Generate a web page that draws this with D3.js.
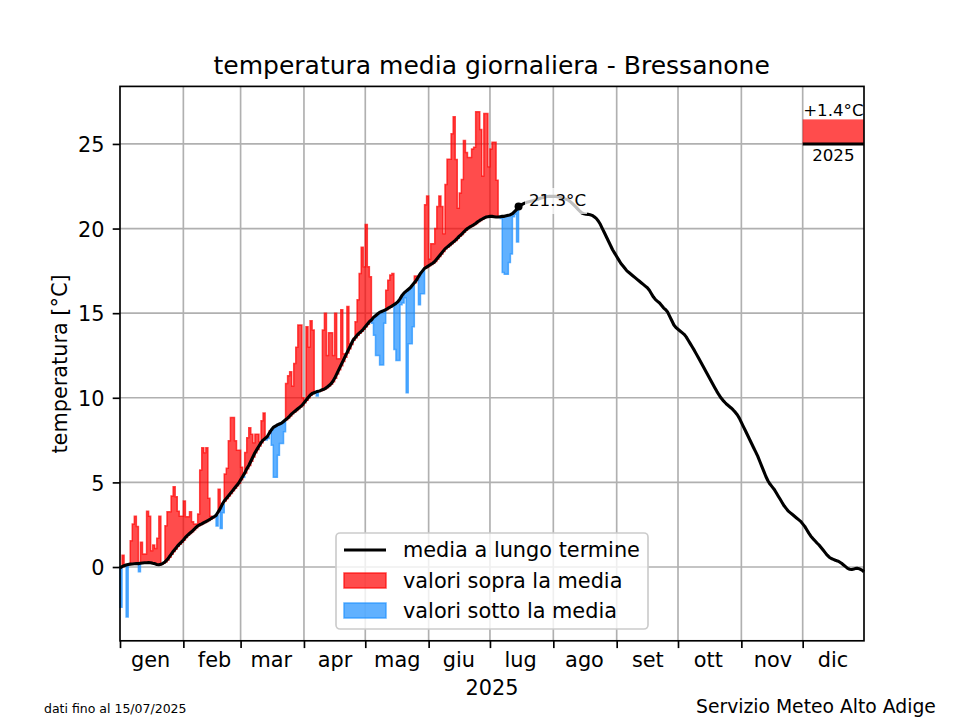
<!DOCTYPE html>
<html><head><meta charset="utf-8">
<script src="https://cdn.jsdelivr.net/npm/d3@7"></script>
<style>
html,body{margin:0;padding:0;background:#fff}
svg{display:block;font-family:"DejaVu Sans",sans-serif}
text{fill:#000}
</style></head><body><svg id="c" width="960" height="720"></svg>
<script>
const monthLabels=["gen","feb","mar","apr","mag","giu","lug","ago","set","ott","nov","dic"];
const monthStarts=[0,31,59,90,120,151,181,212,243,273,304,334];
const labelDays=[14.7,46,73.8,105,135.4,165.5,195.7,227,258,287.6,319.2,348.6];
const yearEnd=364;
const yTicks=[0,5,10,15,20,25];
const meanValues=[-0.05,0.02,0.08,0.12,0.15,0.17,0.18,0.19,0.2,0.2,
0.22,0.24,0.25,0.25,0.26,0.25,0.22,0.2,0.15,0.13,
0.16,0.22,0.3,0.42,0.58,0.75,0.92,1.07,1.22,1.35,
1.47,1.6,1.75,1.87,1.98,2.08,2.2,2.32,2.42,2.5,
2.55,2.62,2.68,2.75,2.82,2.9,2.97,3.05,3.25,3.45,
3.7,3.9,4.05,4.2,4.35,4.5,4.65,4.8,4.95,5.15,
5.35,5.55,5.8,6.0,6.25,6.5,6.75,6.95,7.15,7.35,
7.5,7.6,7.7,7.9,8.1,8.25,8.32,8.4,8.45,8.5,
8.6,8.7,8.8,8.92,9.05,9.15,9.25,9.35,9.45,9.55,
9.7,9.85,10.0,10.15,10.25,10.3,10.35,10.38,10.42,10.48,
10.52,10.6,10.7,10.8,10.95,11.15,11.4,11.65,11.9,12.15,
12.4,12.65,12.9,13.15,13.4,13.55,13.7,13.82,13.93,14.05,
14.2,14.35,14.5,14.6,14.75,14.85,14.95,15.05,15.1,15.15,
15.2,15.28,15.35,15.42,15.5,15.58,15.68,15.85,16.05,16.2,
16.3,16.4,16.5,16.65,16.8,16.95,17.15,17.35,17.5,17.65,
17.72,17.8,17.88,17.95,18.05,18.2,18.35,18.5,18.65,18.8,
18.9,19.0,19.1,19.2,19.3,19.42,19.55,19.65,19.78,19.9,
20.0,20.08,20.15,20.22,20.3,20.4,20.48,20.55,20.62,20.68,
20.7,20.72,20.72,20.7,20.68,20.68,20.7,20.72,20.72,20.75,
20.78,20.82,20.88,21.0,21.12,21.3,21.38,21.44,21.5,21.55,
21.58,21.62,21.65,21.68,21.72,21.76,21.8,21.84,21.87,21.89,
21.9,21.9,21.9,21.9,21.88,21.85,21.82,21.78,21.74,21.7,
21.62,21.52,21.4,21.28,21.15,21.02,20.92,20.88,20.85,20.84,
20.82,20.78,20.7,20.6,20.45,20.25,20.0,19.75,19.5,19.25,
19.0,18.75,18.55,18.35,18.15,17.95,17.8,17.65,17.5,17.4,
17.3,17.2,17.1,17.0,16.9,16.8,16.7,16.6,16.5,16.35,
16.15,15.95,15.8,15.7,15.6,15.45,15.3,15.2,15.05,14.8,
14.55,14.3,14.15,14.05,13.95,13.85,13.75,13.6,13.4,13.2,
13.0,12.8,12.58,12.36,12.14,11.92,11.7,11.48,11.26,11.04,
10.82,10.6,10.38,10.18,10.0,9.85,9.72,9.6,9.5,9.4,
9.28,9.15,9.0,8.8,8.55,8.3,8.05,7.8,7.55,7.3,
7.05,6.8,6.55,6.25,5.95,5.65,5.35,5.1,4.9,4.75,
4.6,4.4,4.2,4.0,3.8,3.6,3.45,3.3,3.2,3.1,
3.0,2.9,2.8,2.7,2.55,2.4,2.2,2.0,1.82,1.68,
1.55,1.42,1.3,1.15,1.0,0.85,0.7,0.58,0.5,0.45,
0.4,0.36,0.3,0.22,0.12,0.02,-0.08,-0.13,-0.15,-0.12,
-0.08,-0.08,-0.12,-0.18,-0.28];
const dailyValues=[-2.38,0.7,0.15,-2.95,0.2,1.55,2.54,3.0,2.4,-0.28,
1.47,0.77,0.77,3.3,3.0,0.96,1.3,1.1,1.7,3.0,
0.2,0.25,2.44,3.27,3.27,4.2,4.74,4.15,3.3,3.0,
3.0,3.9,2.97,2.97,3.27,2.67,2.54,2.54,3.13,5.73,
7.05,6.75,7.05,4.06,3.0,2.95,2.97,2.42,4.6,2.28,
3.2,5.5,5.84,7.46,8.84,8.84,7.46,6.9,6.9,5.9,
5.3,6.77,7.64,8.23,7.84,7.34,7.84,7.84,7.4,8.64,
9.1,7.5,7.6,8.05,7.2,5.3,5.3,6.6,7.3,7.3,
8.0,10.85,11.3,11.54,10.7,12.03,12.98,14.3,14.3,10.0,
9.7,14.2,13.0,14.55,14.0,10.35,10.1,10.4,10.45,14.0,
15.0,12.5,13.85,13.85,12.5,15.0,12.3,12.3,15.2,12.6,
12.6,15.4,13.2,13.2,13.5,14.5,15.8,17.35,18.9,17.74,
20.24,17.74,17.15,14.4,13.7,12.5,12.5,11.93,11.93,14.4,
16.35,16.95,17.25,17.35,12.85,12.2,12.2,15.5,15.6,15.9,
10.3,13.2,13.2,14.2,17.2,17.2,15.5,16.15,16.15,21.4,
21.93,18.2,19.1,19.1,20.0,21.3,21.93,21.3,19.7,22.6,
24.1,24.1,25.6,26.6,24.08,21.2,22.1,22.9,25.2,24.5,
24.2,24.2,24.7,24.8,26.9,26.9,25.85,23.1,26.8,26.8,
23.65,24.7,25.1,25.1,22.85,20.7,20.6,17.4,17.3,17.3,
18.0,18.5,20.7,20.85,19.2,21.3];
const yearMean=25, yearValue=26.45;
const yearLabel="2025", yearAnomaly="+1.4°C", lastLabel="21.3°C";
const legendItems=["media a lungo termine","valori sopra la media","valori sotto la media"];

const RED="#ff0000", BLUE="#1e90ff";
const L=120,R=864,T=86.4,B=640.8;
const svg=d3.select("#c");
const x=d3.scaleLinear().domain([0,yearEnd]).range([L,R]);
const y=d3.scaleLinear().domain([-4.36,28.4]).range([B,T]);
const g=svg.append("g");

// grid
g.append("g").selectAll("line").data(monthStarts.slice(1)).join("line")
 .attr("x1",d=>x(d)).attr("x2",d=>x(d)).attr("y1",T).attr("y2",B)
 .attr("stroke","#b0b0b0").attr("stroke-width",1.67);
g.append("g").selectAll("line").data(yTicks).join("line")
 .attr("x1",L).attr("x2",R).attr("y1",d=>y(d)).attr("y2",d=>y(d))
 .attr("stroke","#b0b0b0").attr("stroke-width",1.67);

// daily anomaly bands: one step area per run of same sign
const area=d3.area().curve(d3.curveStepAfter).x(d=>x(d.i)).y0(d=>y(d.m)).y1(d=>y(d.v));
let runs=[],cur=null;
dailyValues.forEach((v,i)=>{
  const up=v>=meanValues[i];
  if(!cur||cur.up!==up){cur={up,pts:[]};runs.push(cur);}
  cur.pts.push({i,v,m:meanValues[i]});
});
runs.forEach(r=>{
  const last=r.pts[r.pts.length-1];
  r.pts.push({i:last.i+1,v:last.v,m:last.m});
  const c=r.up?RED:BLUE;
  g.append("path").attr("d",area(r.pts)).attr("fill",c).attr("fill-opacity",.7)
   .attr("stroke",c).attr("stroke-opacity",.7).attr("stroke-width",1.5);
});

// long term mean
g.append("path").datum(meanValues)
 .attr("d",d3.line().x((d,i)=>x(i)).y(d=>y(d)))
 .attr("fill","none").attr("stroke","#000").attr("stroke-width",3.1).attr("stroke-linejoin","round");

// last value dot and label
const li=dailyValues.length-1;
g.append("circle").attr("cx",x(li)).attr("cy",y(dailyValues[li])).attr("r",4).attr("fill","#000");
g.append("rect").attr("x",525).attr("y",188).attr("width",62).attr("height",26).attr("fill","#fff").attr("fill-opacity",.75);
g.append("text").attr("x",529).attr("y",206).attr("font-size",16.67).text(lastLabel);

// yearly anomaly box
const bx0=monthStarts[11], bx1=yearEnd;
g.append("rect").attr("x",x(bx0)).attr("width",x(bx1)-x(bx0)).attr("y",y(yearValue)).attr("height",y(yearMean)-y(yearValue))
 .attr("fill",RED).attr("fill-opacity",.7);
g.append("line").attr("x1",x(bx0)).attr("x2",x(bx1)).attr("y1",y(yearMean)).attr("y2",y(yearMean))
 .attr("stroke","#000").attr("stroke-width",3.1);
g.append("text").attr("x",(x(bx0)+x(bx1))/2).attr("y",116).attr("text-anchor","middle").attr("font-size",16.67).text(yearAnomaly);
g.append("text").attr("x",(x(bx0)+x(bx1))/2).attr("y",161).attr("text-anchor","middle").attr("font-size",16.67).text(yearLabel);

// frame
g.append("rect").attr("x",L).attr("y",T).attr("width",R-L).attr("height",B-T).attr("fill","none").attr("stroke","#000").attr("stroke-width",1.67);

// axes
const styleAxis=a=>{a.select(".domain").remove();a.selectAll("line").attr("stroke","#000").attr("stroke-width",1.67);
  a.selectAll("text").attr("font-size",20.83).attr("font-family","DejaVu Sans").attr("fill","#000");};
svg.append("g").attr("transform",`translate(0,${B})`)
 .call(d3.axisBottom(x).tickValues(monthStarts).tickSize(7.3).tickFormat("")).call(styleAxis);
svg.append("g").attr("transform",`translate(0,${B})`)
 .call(d3.axisBottom(x).tickValues(labelDays).tickSize(0).tickPadding(11.7).tickFormat((d,i)=>monthLabels[i])).call(styleAxis);
svg.append("g").attr("transform",`translate(${L},0)`)
 .call(d3.axisLeft(y).tickValues(yTicks).tickSize(7.3).tickPadding(8.3)).call(styleAxis)
 .selectAll("text").attr("dy","0.37em");

// titles
svg.append("text").attr("x",491.7).attr("y",74).attr("text-anchor","middle").attr("font-size",25).text("temperatura media giornaliera - Bressanone");
svg.append("text").attr("x",492).attr("y",695.3).attr("text-anchor","middle").attr("font-size",20.83).text("2025");
svg.append("text").attr("transform","translate(67,364) rotate(-90)").attr("text-anchor","middle").attr("font-size",20.83).text("temperatura [°C]");
svg.append("text").attr("x",44).attr("y",713).attr("font-size",12.5).text("dati fino al 15/07/2025");
svg.append("text").attr("x",696).attr("y",713).attr("font-size",18.75).text("Servizio Meteo Alto Adige");

// legend
const lg=svg.append("g");
lg.append("rect").attr("x",336).attr("y",533).attr("width",312).attr("height",96).attr("rx",4)
 .attr("fill","#fff").attr("fill-opacity",.8).attr("stroke","#ccc").attr("stroke-width",1.67);
lg.append("line").attr("x1",344).attr("x2",386).attr("y1",550).attr("y2",550).attr("stroke","#000").attr("stroke-width",3.1);
[[573,RED],[603,BLUE]].forEach(([yy,c])=>{
  lg.append("rect").attr("x",344).attr("y",yy).attr("width",42).attr("height",15).attr("fill",c).attr("fill-opacity",.7).attr("stroke",c).attr("stroke-opacity",.7).attr("stroke-width",1.5);
});
legendItems.forEach((t,i)=>lg.append("text").attr("x",403).attr("y",557+i*30.5).attr("font-size",20.83).text(t));
</script></body></html>
